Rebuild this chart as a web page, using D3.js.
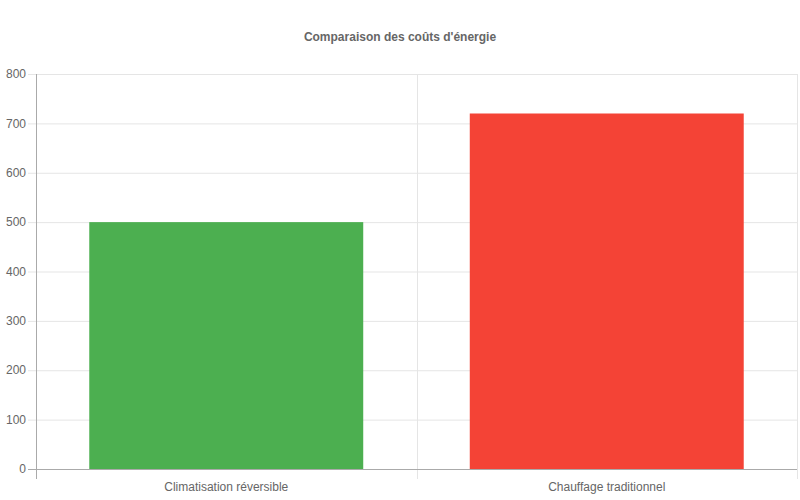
<!DOCTYPE html>
<html>
<head>
<meta charset="utf-8">
<script src="https://cdn.jsdelivr.net/npm/d3@7"></script>
<style>
  body { margin: 0; background: #fff; }
  svg { font-family: "Liberation Sans", Arial, sans-serif; }
</style>
</head>
<body>
<div id="chart"></div>
<script>
// Data
const categories = ["Climatisation réversible", "Chauffage traditionnel"];
const values = [500, 720];
const barColors = ["#4caf50", "#f44336"];
const yTicks = [0, 100, 200, 300, 400, 500, 600, 700, 800];

const W = 800, H = 500;
const margin = { top: 74, right: 3, bottom: 31, left: 36 };
const width = W - margin.left - margin.right,
    height = H - margin.top - margin.bottom;

const svg = d3.select("#chart").append("svg")
    .attr("width", W)
    .attr("height", H);

// Title
svg.append("text")
    .attr("x", W / 2)
    .attr("y", 41)
    .attr("text-anchor", "middle")
    .style("font-size", "12px")
    .style("font-weight", "bold")
    .style("fill", "#666")
    .text("Comparaison des coûts d'énergie");

const g = svg.append("g")
    .attr("transform", `translate(${margin.left},${margin.top})`);

const x = d3.scaleBand().domain(categories).range([0, width]);
const y = d3.scaleLinear().domain([0, 800]).range([height, 0]);

// Horizontal grid lines (extend left as tick marks)
g.append("g")
    .selectAll("line")
    .data(yTicks)
    .join("line")
    .attr("x1", -8)
    .attr("x2", width)
    .attr("y1", d => y(d) + 0.5)
    .attr("y2", d => y(d) + 0.5)
    .attr("stroke", d => d === 0 ? "#aaa" : "#e5e5e5")
    .attr("stroke-width", 1);

// Vertical grid lines at band edges (extend below as tick marks)
const edges = [0].concat(categories.map(c => x(c) + x.bandwidth()));
g.append("g")
    .selectAll("line")
    .data(edges)
    .join("line")
    .attr("x1", d => Math.round(d) + 0.5)
    .attr("x2", d => Math.round(d) + 0.5)
    .attr("y1", 0)
    .attr("y2", height + 10)
    .attr("stroke", (d, i) => i === 0 ? "#aaa" : "#e5e5e5")
    .attr("stroke-width", 1);

// Bars
const barW = x.bandwidth() * 0.72;
g.append("g")
    .selectAll("rect")
    .data(values)
    .join("rect")
    .attr("x", (d, i) => x(categories[i]) + (x.bandwidth() - barW) / 2)
    .attr("y", d => y(d))
    .attr("width", barW)
    .attr("height", d => height - y(d))
    .attr("fill", (d, i) => barColors[i]);

// Redraw the baseline over the bars
g.append("line")
    .attr("x1", -8)
    .attr("x2", width)
    .attr("y1", y(0) + 0.5)
    .attr("y2", y(0) + 0.5)
    .attr("stroke", "#aaa");

// Y labels
g.append("g")
    .selectAll("text")
    .data(yTicks)
    .join("text")
    .attr("x", -10)
    .attr("y", d => y(d))
    .attr("dy", "0.35em")
    .attr("text-anchor", "end")
    .style("font-size", "12px")
    .style("fill", "#666")
    .text(d => d);

// X labels
g.append("g")
    .selectAll("text")
    .data(categories)
    .join("text")
    .attr("x", d => x(d) + x.bandwidth() / 2)
    .attr("y", height + 22)
    .attr("text-anchor", "middle")
    .style("font-size", "12px")
    .style("fill", "#666")
    .text(d => d);
</script>
</body>
</html>
